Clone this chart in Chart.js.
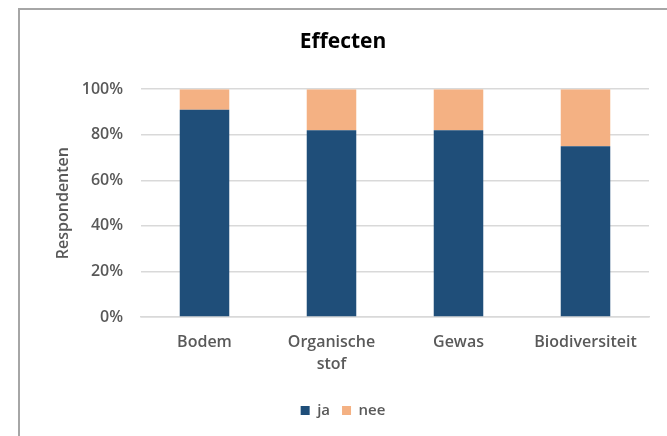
<!DOCTYPE html>
<html>
<head>
<meta charset="utf-8">
<script src="https://cdn.jsdelivr.net/npm/chart.js@4"></script>
<style>
  html, body { margin: 0; padding: 0; background: #fff; }
  #wrap { position: relative; width: 667px; height: 436px; }
  #frame { position: absolute; left: 18px; top: 8px; right: 0; bottom: 0;
           border-left: 2px solid #A6A6A6; border-top: 2px solid #A6A6A6; }
  canvas { position: absolute; left: 0; top: 0; }
</style>
</head>
<body>
<div id="wrap">
  <div id="frame"></div>
  <canvas id="effectenChart" width="667" height="436"></canvas>
</div>
<script>
const categories = [['Bodem'], ['Organische', 'stof'], ['Gewas'], ['Biodiversiteit']];
const jaValues = [91, 82, 82, 75];
const neeValues = [9, 18, 18, 25];
const yTicks = [0, 20, 40, 60, 80, 100];

const gray = '#595959';
const font = '"Open Sans", Lato, sans-serif';

document.addEventListener("DOMContentLoaded", function() {
    initEffectenChart();
});

function initEffectenChart() {
    new Chart(document.getElementById('effectenChart').getContext('2d'), {
        type: 'bar',
        data: {
            labels: categories,
            datasets: [{
                label: 'ja',
                data: jaValues,
                backgroundColor: '#1F4E79'
            }, {
                label: 'nee',
                data: neeValues,
                backgroundColor: '#F4B183'
            }]
        },
        options: {
            responsive: false,
            animation: false,
            datasets: { bar: { barPercentage: 0.39, categoryPercentage: 1 } },
            layout: { padding: { left: 37, right: 18, top: 0, bottom: 8 } },
            plugins: {
                title: {
                    display: true,
                    text: 'Effecten',
                    color: '#000',
                    font: { family: font, size: 21, weight: 'bold' },
                    padding: { top: 29, bottom: 35 }
                },
                legend: {
                    position: 'bottom',
                    labels: {
                        color: gray,
                        boxWidth: 9,
                        boxHeight: 9,
                        padding: 12,
                        font: { family: font, size: 15, weight: '600' }
                    }
                },
                tooltip: { enabled: false }
            },
            scales: {
                x: {
                    stacked: true,
                    grid: { display: false, drawTicks: false },
                    border: { display: true, color: '#D9D9D9', width: 1.5 },
                    ticks: {
                        color: gray,
                        padding: 14,
                        maxRotation: 0,
                        font: { family: font, size: 16, weight: '600', lineHeight: 1.4 }
                    },
                    afterFit: s => { s.height = 74; }
                },
                y: {
                    stacked: true,
                    min: 0,
                    max: 100,
                    afterBuildTicks: s => { s.ticks = yTicks.map(v => ({ value: v })); },
                    grid: { color: '#D9D9D9', lineWidth: 1.5, drawTicks: false },
                    border: { display: false },
                    ticks: {
                        color: gray,
                        padding: 18,
                        font: { family: font, size: 16, weight: '600' },
                        callback: v => v + '%'
                    },
                    title: {
                        display: true,
                        text: 'Respondenten',
                        color: gray,
                        font: { family: font, size: 16, weight: '600' },
                        padding: { top: 17, bottom: 8 }
                    },
                    afterFit: s => { s.width = 104; }
                }
            }
        }
    });
}
</script>
</body>
</html>
